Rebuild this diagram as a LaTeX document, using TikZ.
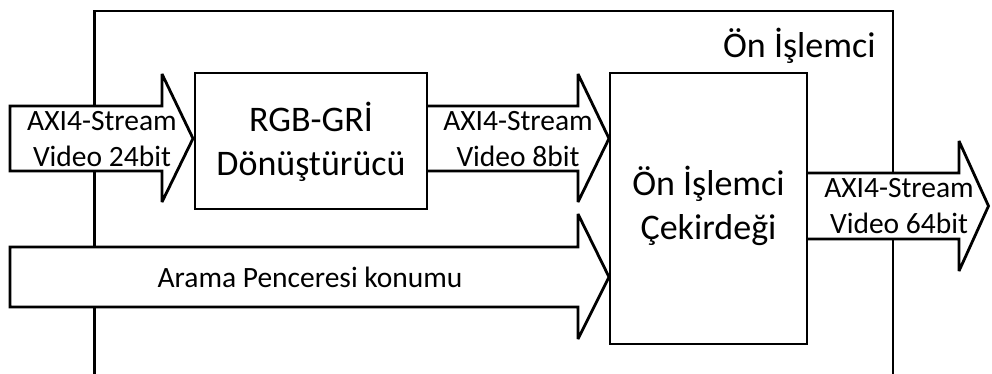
\documentclass[tikz,border=0pt]{standalone}
\usepackage{fontspec}
\setmainfont{Carlito}
\begin{document}
\begin{tikzpicture}[x=1pt,y=-1pt,line width=2.8pt,line join=miter,miter limit=3]
\tikzset{
  blk/.style={draw, fill=white, line width=2.8pt, inner sep=0pt},
  barrow/.style={draw, fill=white, line width=2.8pt},
  small/.style={font=\fontsize{29.5}{35.5}\selectfont, align=center, inner sep=0pt},
  big/.style={font=\fontsize{36}{43.5}\selectfont, align=center, inner sep=0pt}
}
\useasboundingbox (0,0) rectangle (992,373);

% enclosing frame of the pre-processor, open at the bottom
\draw (94.5,390) -- (94.5,11) -- (893,11) -- (893,390);
\node[big, anchor=base east] (title) at (877,57) {Ön İşlemci};

% 24-bit input stream
\draw[barrow] (10,106) -- (162,106) -- (162,74) -- (193,138.5) -- (162,202) -- (162,171) -- (10,171) -- cycle;
\node[small] (in24) at (102,139) {AXI4-Stream\\Video 24bit};

% 8-bit stream between converter and core
\draw[barrow] (427,106) -- (578,106) -- (578,74) -- (609,138.5) -- (578,202) -- (578,171) -- (427,171);
\node[small] (mid8) at (518,139) {AXI4-Stream\\Video 8bit};

% colour converter
\node[blk, minimum width=232pt, minimum height=136pt] (rgb) at (311,141) {};
\node[big] (rgbt) at (311,142) {RGB-GRİ\\Dönüştürücü};

% search-window position input
\draw[barrow] (10,247) -- (578,247) -- (578,214) -- (609,277) -- (578,339) -- (578,307) -- (10,307) -- cycle;
\node[small] (pos) at (310,277) {Arama Penceresi konumu};

% 64-bit output stream
\draw[barrow] (807,173) -- (959,173) -- (959,141) -- (988.5,206) -- (959,271) -- (959,239) -- (807,239);
\node[small] (out64) at (899,206) {AXI4-Stream\\Video 64bit};

% pre-processor core
\node[blk, minimum width=197pt, minimum height=271pt] (core) at (708.5,208.5) {};
\node[big] (coret) at (708.5,206) {Ön İşlemci\\Çekirdeği};
\end{tikzpicture}
\end{document}
